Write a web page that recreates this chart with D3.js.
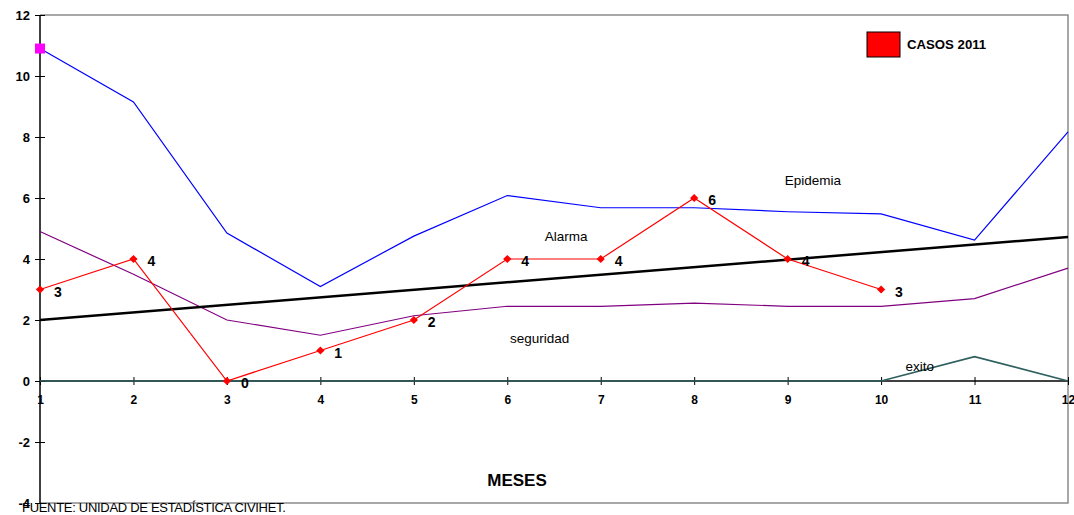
<!DOCTYPE html>
<html>
<head>
<meta charset="utf-8">
<script src="https://cdn.jsdelivr.net/npm/d3@7"></script>
<style>
  body { margin: 0; background: #fff; }
  text { font-family: "Liberation Sans", Arial, sans-serif; }
</style>
</head>
<body>
<svg id="chart"></svg>
<script>
const months = [1, 2, 3, 4, 5, 6, 7, 8, 9, 10, 11, 12];
const epidemia = [10.9, 9.15, 4.85, 3.1, 4.75, 6.08, 5.68, 5.68, 5.55, 5.48, 4.62, 8.17];
const seguridad = [4.9, 3.5, 2.0, 1.5, 2.14, 2.45, 2.45, 2.55, 2.45, 2.45, 2.7, 3.7];
const exito = [0, 0, 0, 0, 0, 0, 0, 0, 0, 0, 0.8, 0];
const alarmaMonths = [1, 12];
const alarma = [2.0, 4.72];
const casosMonths = [1, 2, 3, 4, 5, 6, 7, 8, 9, 10];
const casos2011 = [3, 4, 0, 1, 2, 4, 4, 6, 4, 3];
const yTicks = [-4, -2, 0, 2, 4, 6, 8, 10, 12];

const W = 1074, H = 515;
const svg = d3.select("#chart").attr("width", W).attr("height", H);

const x = d3.scaleLinear().domain([1, 12]).range([40, 1068]);
const y = d3.scaleLinear().domain([-4, 12]).range([503, 15]);

// plot frame (gray top/right/bottom)
svg.append("path")
    .attr("d", `M40,${y(12)}H1068V${y(-4)}H40`)
    .attr("fill", "none")
    .attr("stroke", "#8c8c8c")
    .attr("stroke-width", 1.5);

// y axis
const yAxis = svg.append("g")
    .attr("transform", "translate(40,0)")
    .call(d3.axisLeft(y).tickValues(yTicks).tickFormat(d => String(d)).tickSize(5).tickPadding(5));
yAxis.select(".domain").attr("stroke", "#000").attr("stroke-width", 1.5).attr("d", `M0,${y(12)}V${y(-4)}`);
yAxis.selectAll(".tick line").attr("x2", 5).attr("x1", -5).attr("stroke", "#000");
yAxis.selectAll("text")
    .style("font-size", "13px").style("font-weight", "bold").attr("fill", "#000");

// x axis on zero line
const xAxis = svg.append("g")
    .attr("transform", `translate(0,${y(0)})`)
    .call(d3.axisBottom(x).tickValues(months).tickSize(0).tickPadding(14));
xAxis.select(".domain").remove();
xAxis.selectAll(".tick line").attr("y1", -4).attr("y2", 4).attr("stroke", "#000");
xAxis.selectAll("text")
    .style("font-size", "12px").style("font-weight", "bold").attr("fill", "#000");

svg.append("line")
    .attr("x1", x(1)).attr("x2", x(12))
    .attr("y1", y(0)).attr("y2", y(0))
    .attr("stroke", "#000").attr("stroke-width", 1.5);

const line = d3.line().x(d => x(d[0])).y(d => y(d[1]));

function drawLine(xs, ys, color, width) {
    svg.append("path")
        .datum(xs.map((m, i) => [m, ys[i]]))
        .attr("d", line)
        .attr("fill", "none")
        .attr("stroke", color)
        .attr("stroke-width", width);
}

drawLine(months, exito, "#2f5f5f", 1.7);
drawLine(months, seguridad, "#800080", 1.2);
drawLine(months, epidemia, "#0000ff", 1.2);
drawLine(alarmaMonths, alarma, "#000", 2.5);
drawLine(casosMonths, casos2011, "#ff0000", 1.2);

// magenta marker at first epidemia point
svg.append("rect")
    .attr("x", x(months[0]) - 5).attr("y", y(epidemia[0]) - 5)
    .attr("width", 10).attr("height", 10)
    .attr("fill", "#ff00ff");

// casos markers + labels
const casos = casosMonths.map((m, i) => ({ m, v: casos2011[i] }));
svg.selectAll(".dia")
    .data(casos)
    .enter()
    .append("path")
    .attr("class", "dia")
    .attr("d", d3.symbol(d3.symbolSquare, 34))
    .attr("transform", d => `translate(${x(d.m)},${y(d.v)}) rotate(45)`)
    .attr("fill", "#ff0000");

svg.selectAll(".lbl")
    .data(casos)
    .enter()
    .append("text")
    .attr("class", "lbl")
    .attr("x", d => x(d.m) + 14)
    .attr("y", d => y(d.v) + 7)
    .attr("font-size", 14)
    .attr("font-weight", "bold")
    .text(d => d.v);

// zone labels
const zoneLabels = [
    { t: "Epidemia", m: 8.97, v: 6.43 },
    { t: "Alarma", m: 6.4, v: 4.6 },
    { t: "seguridad", m: 6.03, v: 1.25 },
    { t: "exito", m: 10.26, v: 0.33 }
];
svg.selectAll(".zone")
    .data(zoneLabels)
    .enter()
    .append("text")
    .attr("x", d => x(d.m))
    .attr("y", d => y(d.v))
    .attr("font-size", 13.5)
    .attr("fill", "#000")
    .text(d => d.t);

// legend
svg.append("rect")
    .attr("x", 867).attr("y", 32).attr("width", 33).attr("height", 25)
    .attr("fill", "#ff0000").attr("stroke", "#000").attr("stroke-width", 1);
svg.append("text")
    .attr("x", 907).attr("y", 49)
    .attr("font-size", 13.2).attr("font-weight", "bold")
    .text("CASOS 2011");

// axis title
svg.append("text")
    .attr("x", 517).attr("y", 486)
    .attr("text-anchor", "middle")
    .attr("font-size", 17).attr("font-weight", "bold")
    .text("MESES");

// source note
svg.append("text")
    .attr("x", 22).attr("y", 512)
    .attr("font-size", 13)
    .attr("letter-spacing", -0.3)
    .text("FUENTE: UNIDAD DE ESTADÍSTICA CIVIHET.");
</script>
</body>
</html>
